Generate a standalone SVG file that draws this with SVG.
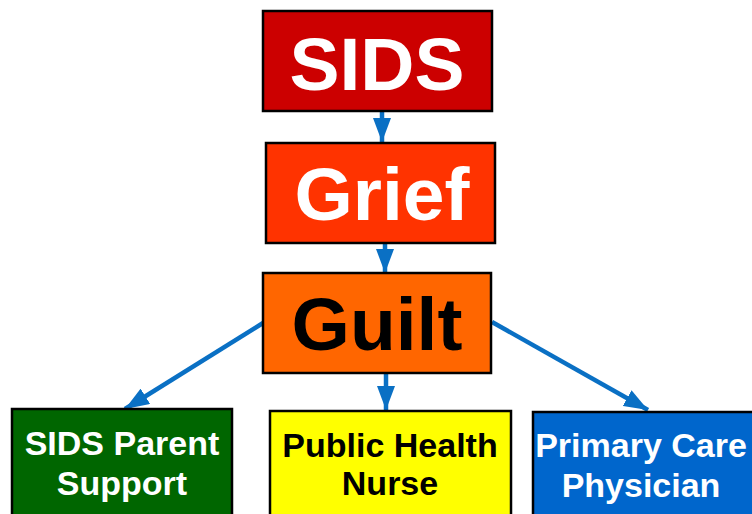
<svg xmlns="http://www.w3.org/2000/svg" width="752" height="514" viewBox="0 0 752 514">
<style>
.box{stroke:#000;stroke-width:2.5}
.big{font-family:"Liberation Sans",Arial,sans-serif;font-weight:bold;font-size:75px;text-anchor:middle}
.small{font-family:"Liberation Sans",Arial,sans-serif;font-weight:bold;font-size:34px;text-anchor:middle}
.conn{stroke:#0A70C4;stroke-width:4.5;fill:none}
</style>
<defs>
<marker id="ah" markerUnits="userSpaceOnUse" markerWidth="26" markerHeight="18" refX="24" refY="9" orient="auto">
<path d="M0,0 L24,9 L0,18 Z" fill="#0A70C4"/>
</marker>
</defs>
<rect width="752" height="514" fill="#fff"/>
<g id="connectors">
<line class="conn" x1="382" y1="112" x2="382" y2="142" marker-end="url(#ah)"/>
<line class="conn" x1="385" y1="243" x2="385" y2="273" marker-end="url(#ah)"/>
<line class="conn" x1="386" y1="374" x2="386" y2="410" marker-end="url(#ah)"/>
<line class="conn" x1="263" y1="323" x2="125" y2="409" marker-end="url(#ah)"/>
<line class="conn" x1="492" y1="322" x2="648" y2="410" marker-end="url(#ah)"/>
</g>
<g id="sids">
<rect class="box" x="263" y="11" width="229" height="100" fill="#CC0000"/>
<text class="big" x="377" y="90" fill="#fff">SIDS</text>
</g>
<g id="grief">
<rect class="box" x="266" y="143" width="229" height="100" fill="#FF3300"/>
<text class="big" x="382" y="220" fill="#fff">Grief</text>
</g>
<g id="guilt">
<rect class="box" x="263" y="273" width="228" height="100" fill="#FF6600"/>
<text class="big" x="377" y="350" fill="#000">Guilt</text>
</g>
<g id="parent-support">
<rect class="box" x="12" y="409" width="220" height="110" fill="#006600"/>
<text class="small" x="122" y="455" fill="#fff">SIDS Parent</text>
<text class="small" x="122" y="495" fill="#fff">Support</text>
</g>
<g id="public-health-nurse">
<rect class="box" x="270" y="411" width="241" height="110" fill="#FFFF00"/>
<text class="small" x="390" y="457" fill="#000">Public Health</text>
<text class="small" x="390" y="495" fill="#000">Nurse</text>
</g>
<g id="primary-care">
<rect class="box" x="533" y="412" width="222" height="110" fill="#0066CC"/>
<text class="small" x="641" y="457" fill="#fff">Primary Care</text>
<text class="small" x="641" y="497" fill="#fff">Physician</text>
</g>
</svg>
